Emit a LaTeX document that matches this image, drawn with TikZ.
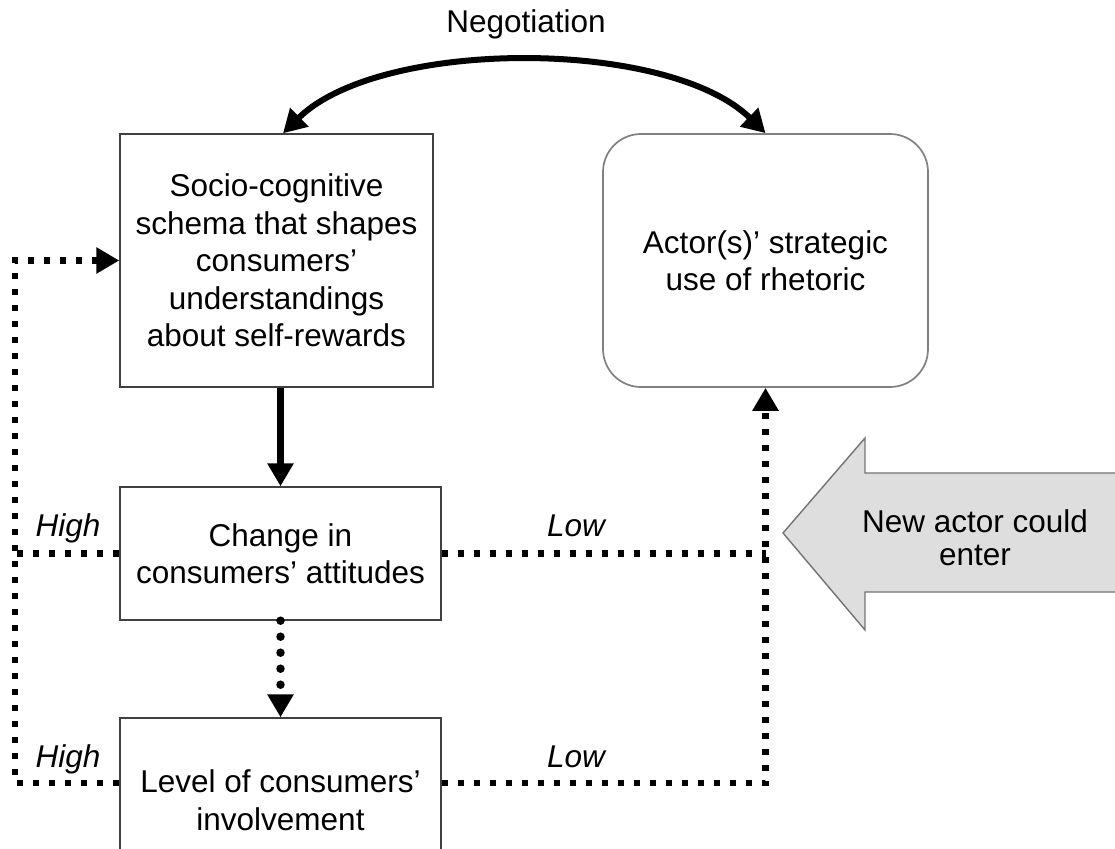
\documentclass[tikz,border=0pt]{standalone}
\usepackage{fontspec}
\setmainfont{Liberation Sans}
\usetikzlibrary{arrows.meta,calc}
\begin{document}
\begin{tikzpicture}[x=1pt,y=-1pt,
  font=\fontsize{31.5}{37.5}\selectfont,
  box/.style={draw=black!75,line width=1.4pt,align=center,inner sep=0pt},
  rbox/.style={box,draw=black!50,line width=1.7pt,rounded corners=38pt},
  solidarrow/.style={line width=7pt,-{Triangle[length=23pt,width=25pt]}},
  arcarrow/.style={line width=6pt,{Triangle[length=23pt,width=25pt]}-{Triangle[length=23pt,width=25pt]}},
  dotsq/.style={line width=6.5pt,dash pattern=on 6pt off 10pt},
  dotrd/.style={line width=8.5pt,line cap=round,dash pattern=on 0pt off 16pt},
  tip/.style={-{Triangle[length=23pt,width=25pt]}},
  lbl/.style={font=\fontsize{31.5}{36}\selectfont\itshape,anchor=base,inner sep=0pt},
  bigarrow/.style={fill=black!13,draw=black!55,line width=1.4pt}
]
\useasboundingbox (0,0) rectangle (1115,848);
\clip (0,0) rectangle (1115,848);

% boxes
\node[box,minimum width=313pt,minimum height=253pt] (b1) at (276.5,260.5)
  {Socio-cognitive\\schema that shapes\\consumers’\\understandings\\about self-rewards};
\node[rbox,minimum width=325pt,minimum height=253pt] (act) at (765.5,260.5)
  {Actor(s)’ strategic\\use of rhetoric};
\node[box,minimum width=321pt,minimum height=133pt] (b2) at (280.5,553.5)
  {Change in\\consumers’ attitudes};
\node[box,minimum width=321pt,minimum height=164pt] (b3) at (280.5,800)
  {Level of consumers’\\involvement};

% negotiation
\node[anchor=base,inner sep=0pt] (neg) at (526,33) {Negotiation};
\draw[arcarrow] ([xshift=6.5pt]b1.north) .. controls (380,38) and (668,38) .. (act.north);

% vertical arrows
\draw[solidarrow] (b1.south -| b2.north) -- (b2.north);
\draw[dotrd,tip] (b2.south) -- (b3.north);

% left loop
\draw[dotsq,tip] (b3.west |- 0,783) -- (15,783) -- (15,260.5) -- (b1.west);
\draw[dotsq] (b2.west) -- (b2.west -| 15,0);

% right
\draw[dotsq] (b2.east) -- (b2.east -| act.south);
\draw[dotsq,tip] (b3.east |- 0,783) -- (act.south |- 0,783) -- (act.south);

% labels
\node[lbl] (h1) at (68,536) {High};
\node[lbl] (h2) at (68,767) {High};
\node[lbl] (l1) at (576,536) {Low};
\node[lbl] (l2) at (576,767) {Low};

% big arrow
\path[bigarrow] (783,533) -- (865,438) -- (865,473) -- (1125,473) -- (1125,592) -- (865,592) -- (865,630) -- cycle;
\node[align=center,inner sep=0pt,font=\fontsize{31.5}{33}\selectfont] (new) at (975,538) {New actor could\\enter};
\end{tikzpicture}
\end{document}
